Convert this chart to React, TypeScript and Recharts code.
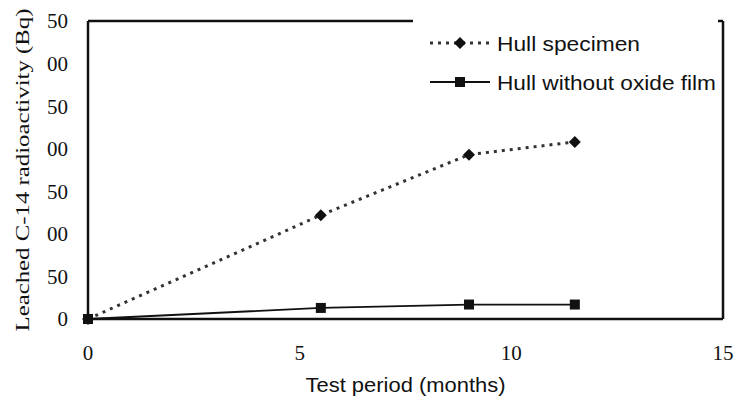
import React from 'react';
import { LineChart, Line, XAxis, YAxis, ReferenceLine } from 'recharts';

const months = [0, 5.5, 9, 11.5];
const hullSpecimen = [0, 122, 193, 208];
const hullNoOxide = [0, 13, 17, 17];
const xTicks = [0, 5, 10, 15];
const yTicks = [0, 50, 100, 150, 200, 250, 300, 350];
const yTickLabels = ['0', '50', '00', '50', '00', '50', '00', '50'];

const data = months.map((m, i) => ({ m, hull: hullSpecimen[i], noOxide: hullNoOxide[i] }));

const serif = '"Liberation Serif", "DejaVu Serif", serif';
const sans = '"Liberation Sans", Arial, sans-serif';

const Diamond = (props: any) => {
  const { cx, cy } = props;
  if (cx == null || cy == null) return null;
  const r = 6;
  return <polygon points={`${cx},${cy - r} ${cx + r},${cy} ${cx},${cy + r} ${cx - r},${cy}`} fill="#111" />;
};

const Square = (props: any) => {
  const { cx, cy } = props;
  if (cx == null || cy == null) return null;
  return <rect x={cx - 5} y={cy - 5} width={10} height={10} fill="#111" />;
};

const LegendBox = () => (
  <div style={{ background: '#fff', width: 305, height: 95 }}>
    <svg width={305} height={95}>
      <line x1={17} y1={31} x2={77} y2={31} stroke="#333" strokeWidth={3} strokeDasharray="3 5" />
      <polygon points="47,25 53,31 47,37 41,31" fill="#111" />
      <text x={84} y={39} fontFamily={sans} fontSize={21} fill="#111" textLength={143} lengthAdjust="spacingAndGlyphs">
        Hull specimen
      </text>
      <line x1={17} y1={70} x2={77} y2={70} stroke="#111" strokeWidth={2.2} />
      <rect x={42} y={65} width={10} height={10} fill="#111" />
      <text x={84} y={78} fontFamily={sans} fontSize={21} fill="#111" textLength={219} lengthAdjust="spacingAndGlyphs">
        Hull without oxide film
      </text>
    </svg>
  </div>
);

const frame = { stroke: '#111', strokeWidth: 2.5 };

export default function App() {
  return (
    <div style={{ width: 735, height: 406, background: '#fff' }}>
      <style>{`body{margin:0}`}</style>
      <LineChart width={735} height={406} data={data} margin={{ top: 21, right: 12, bottom: 0, left: 28 }}>
        <XAxis
          dataKey="m"
          type="number"
          domain={[0, 15]}
          ticks={xTicks}
          height={87}
          tickSize={0}
          tickMargin={26}
          tickLine={false}
          axisLine={frame}
          tick={{ fontFamily: serif, fontSize: 21, fill: '#111' }}
          label={(p: any) => {
            const vb = p.viewBox;
            return (
              <text x={vb.x + vb.width / 2} y={vb.y + 73} textAnchor="middle" fontFamily={sans} fontSize={20} fill="#111"
                textLength={200} lengthAdjust="spacingAndGlyphs">
                Test period (months)
              </text>
            );
          }}
        />
        <YAxis
          type="number"
          domain={[0, 350]}
          ticks={yTicks}
          width={60}
          tickSize={0}
          tickMargin={20}
          tickLine={false}
          axisLine={frame}
          tick={{ fontFamily: serif, fontSize: 21, fill: '#111' }}
          tickFormatter={(_v: number, i: number) => yTickLabels[i]}
          label={(p: any) => {
            const vb = p.viewBox;
            const cy = vb.y + vb.height / 2;
            return (
              <text x={22} y={cy} transform={`rotate(-90 22 ${cy})`} textAnchor="middle" dominantBaseline="central"
                fontFamily={serif} fontSize={19} fill="#111" textLength={323} lengthAdjust="spacingAndGlyphs">
                Leached C-14 radioactivity (Bq)
              </text>
            );
          }}
        />
        <ReferenceLine y={350} {...frame} ifOverflow="visible" />
        <ReferenceLine x={15} {...frame} ifOverflow="visible" />
        <Line dataKey="noOxide" stroke="#111" strokeWidth={1.8} dot={<Square />} isAnimationActive={false} />
        <Line dataKey="hull" stroke="#333" strokeWidth={3} strokeDasharray="3 5" dot={<Diamond />} isAnimationActive={false} />
      </LineChart>
      <div style={{ position: 'absolute', left: 413, top: 12 }}>
        <LegendBox />
      </div>
    </div>
  );
}
